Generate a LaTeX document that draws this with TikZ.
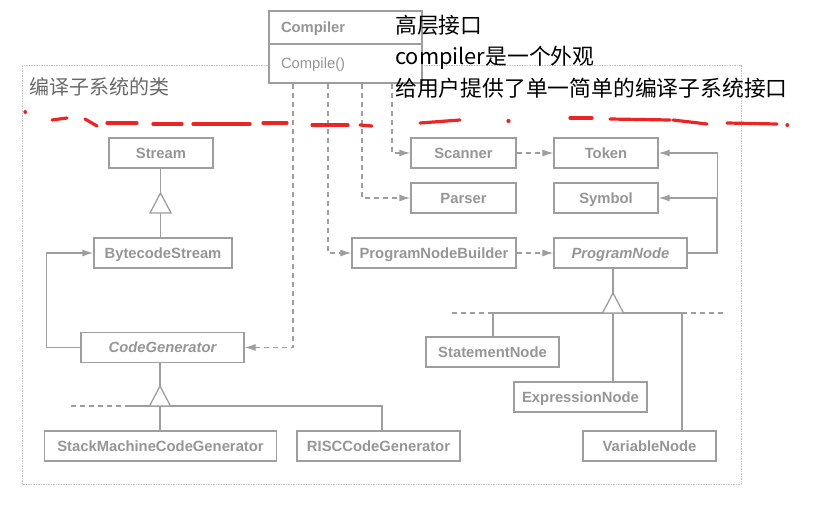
\documentclass[tikz,border=0pt]{standalone}
\usepackage{fontspec}
\setmainfont{Liberation Sans}
\newfontfamily\cjk{Noto Sans CJK SC}
\usetikzlibrary{arrows.meta,calc}
\definecolor{umlgray}{RGB}{158,158,158}
\definecolor{textgray}{RGB}{150,150,150}
\definecolor{framegray}{RGB}{195,195,195}
\definecolor{labelgray}{RGB}{105,105,105}
\definecolor{penred}{RGB}{236,36,36}
\tikzset{
	cls/.style={draw=umlgray, line width=1.3pt, fill=white, minimum height=30pt, inner sep=0pt, text height=10pt, text depth=0pt, text=textgray, font=\fontsize{14.8}{16}\selectfont\bfseries},
	abstr/.style={cls, font=\fontsize{14.8}{16}\selectfont\bfseries\itshape},
	gen/.style={draw=umlgray, line width=1.3pt},
	assoc/.style={gen, -{Latex[length=11pt,width=7pt]}},
	dep/.style={draw=umlgray, line width=1.1pt, dash pattern=on 5pt off 4pt, -{Latex[length=11pt,width=7pt]}},
	extra/.style={draw=umlgray, line width=1.1pt, dash pattern=on 5pt off 4pt},
	note/.style={anchor=west, inner sep=0pt, font=\cjk\fontsize{21.8}{24}\selectfont},
	redpen/.style={draw=penred, line width=3.2pt, line cap=round},
}
% generalisation triangle, base centre given
\newcommand{\gentri}[1]{\draw[gen, fill=white] (#1) ++(-10.5,0) -- ++(21,0) -- ++(-10.5,-20) -- cycle;}

\begin{document}
\begin{tikzpicture}[x=1pt,y=-1pt]
	\useasboundingbox (0,0) rectangle (814,506);
	
	% subsystem frame and its title
	\draw[framegray, line width=1pt, dash pattern=on 1.5pt off 1pt] (22,65) rectangle (741,484);
	\node[anchor=west, inner sep=0pt, text=labelgray, font=\cjk\fontsize{20}{22}\selectfont] (subsys) at (29,87) {编译子系统的类};
	
	% facade
	\node[cls, minimum width=153pt, minimum height=33pt, text width=129pt, align=left] (compname) at (345.5,27.5) {Compiler};
	\node[cls, font=\fontsize{14.8}{16}\selectfont, minimum width=153pt, minimum height=39pt, text width=129pt, align=left] (compop) at (345.5,63.5) {Compile()};
	
	% left column: streams and code generators
	\node[cls, minimum width=104pt] (stream) at (161,153) {Stream};
	\node[cls, minimum width=138pt] (bytecode) at (163,253) {BytecodeStream};
	\node[abstr, minimum width=163pt] (codegen) at (162.5,347.5) {CodeGenerator};
	\node[cls, minimum width=232pt] (stackgen) at (160.5,446) {StackMachineCodeGenerator};
	\node[cls, minimum width=163pt] (riscgen) at (378.5,446) {RISCCodeGenerator};
	
	% right part: scanner, parser, program nodes
	\node[cls, minimum width=105pt] (scanner) at (463.5,153) {Scanner};
	\node[cls, minimum width=104pt] (token) at (606,153) {Token};
	\node[cls, minimum width=105pt] (parser) at (463.5,198) {Parser};
	\node[cls, minimum width=104pt] (symbol) at (606,198) {Symbol};
	\node[cls, minimum width=164pt] (builder) at (434,253) {ProgramNodeBuilder};
	\node[abstr, minimum width=133pt] (prognode) at (620.5,253) {ProgramNode};
	\node[cls, minimum width=133pt] (stmt) at (492.5,352) {StatementNode};
	\node[cls, minimum width=133pt] (expr) at (580.5,397) {ExpressionNode};
	\node[cls, minimum width=133pt] (var) at (649.5,446) {VariableNode};
	
	% Stream hierarchy
	\coordinate (streambase) at (160.5,213);
	\draw[gen] (bytecode.north -| streambase) -- (streambase);
	\draw[gen] ($(streambase)+(0,-20)$) -- (stream.south -| streambase);
	\gentri{streambase}
	\draw[assoc] (codegen.west) -- ++(-34,0) |- (bytecode.west);
	
	% CodeGenerator hierarchy
	\coordinate (genbase) at (160,406);
	\coordinate (riscjoin) at (382,406);
	\draw[extra] (71,406) -- (130,406);
	\draw[gen] (130,406) -- (riscjoin) -- (riscjoin |- riscgen.north);
	\draw[gen] (genbase) -- (genbase |- stackgen.north);
	\draw[gen] (codegen.south -| genbase) -- ($(genbase)+(0,-20)$);
	\gentri{genbase}
	
	% Compiler uses the subsystem classes
	\draw[dep] ([xshift=-52.5pt]compop.south) |- (codegen.east);
	\draw[dep] ([xshift=-17.5pt]compop.south) |- (builder.west);
	\draw[dep] ([xshift=16.5pt]compop.south) |- (parser.west);
	\draw[dep] ([xshift=46.5pt]compop.south) |- (scanner.west);
	\draw[dep] (scanner) -- (token);
	\draw[dep] (builder) -- (prognode);
	
	% ProgramNode refers to Token and Symbol
	\draw[assoc] (prognode.east) -- ++(29.5,0) |- (token.east);
	\draw[assoc] (prognode.east -| 717,0) |- (symbol.east);
	
	% ProgramNode hierarchy
	\coordinate (pnbase) at (613,313);
	\coordinate (stmtjoin) at (493,313);
	\coordinate (varjoin) at (682,313);
	\draw[extra] (452,313) -- (stmtjoin);
	\draw[extra] (varjoin) -- (727,313);
	\draw[gen] (stmtjoin |- stmt.north) -- (stmtjoin) -- (varjoin) -- (varjoin |- var.north);
	\draw[gen] (pnbase) -- (pnbase |- expr.north);
	\draw[gen] (prognode.south -| pnbase) -- ($(pnbase)+(0,-20)$);
	\gentri{pnbase}
	
	% notes
	\node[note] (note1) at (395,25) {高层接口};
	\node[note] (note2) at (395,58) {compiler是一个外观};
	\node[note] (note3) at (395,88) {给用户提供了单一简单的编译子系统接口};
	
	% hand-drawn red boundary
	\foreach \xa/\ya/\xb/\yb in {25/112/25.5/112, 52/120/67/118, 85/119/97/126, 107/123/137/123, 153/124/182/124, 193/124/250/124, 263/123/287/123, 312/125/348/125, 360/125/372/126, 420/123/460/120, 508/121/509/121, 570/118/592/118, 610/119/670/120, 673/120/707/124, 727/123/777/124, 787/125/787.5/125}
		\draw[redpen] (\xa,\ya) -- (\xb,\yb);
\end{tikzpicture}
\end{document}
